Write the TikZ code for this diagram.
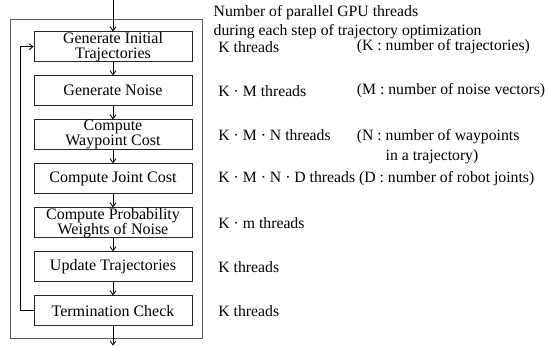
\documentclass[tikz,border=0pt]{standalone}
\usepackage{fontspec}
\setmainfont{Liberation Serif}
\usetikzlibrary{positioning,arrows.meta}
\tikzset{
    stepbox/.style={draw,black!85,text=black,minimum width=118.5pt,minimum height=22.5pt,inner sep=0pt,align=center,font=\fontsize{12}{11.25}\selectfont},
    rowtext/.style={anchor=west,inner sep=0pt,align=left,font=\fontsize{11.8}{15}\selectfont},
    flow/.style={-{Straight Barb[length=3pt,width=4.5pt]},line width=0.6pt}
}
\begin{document}
\begin{tikzpicture}[x=0.75pt,y=0.75pt,node distance=9.9pt,line width=0.6pt]
                \useasboundingbox (0,0) rectangle (549,347);
                \draw[black!65] (10,328) rectangle (202,9);
                \node[stepbox] (b1) at (113,300.3) {Generate Initial\\Trajectories};
                \node[stepbox,below=of b1] (b2) {Generate Noise};
                \node[stepbox,below=of b2] (b3) {Compute\\Waypoint Cost};
                \node[stepbox,below=of b3] (b4) {Compute Joint Cost};
                \node[stepbox,below=of b4] (b5) {Compute Probability\\Weights of Noise};
                \node[stepbox,below=of b5] (b6) {Update Trajectories};
                \node[stepbox,below=of b6] (b7) {Termination Check};
                \coordinate (in) at (113,347);
                \coordinate (out) at (113,1.5);
                \coordinate (back) at (20,0);
                \coordinate (colA) at (218,0);
                \coordinate (colB) at (356.5,0);
                \draw[flow] (in) -- (b1.north);
                \foreach \a/\b in {b1/b2,b2/b3,b3/b4,b4/b5,b5/b6,b6/b7}
                    \draw[flow] (\a.south) -- (\b.north);
                \draw[flow] (b7.south) -- (out);
                \draw[flow] (b7.west) -- (b7.west -| back) -- (b1.west -| back) -- (b1.west);
                \node[rowtext,anchor=north west,font=\fontsize{11.8}{14.25}\selectfont] (head) at (213.3,341.5) {Number of parallel GPU threads\\during each step of trajectory optimization};
                \node[rowtext] (t1) at (b1 -| colA) {K threads};
                \node[rowtext] (t2) at (b2 -| colA) {K · M threads};
                \node[rowtext] (t3) at (b3 -| colA) {K · M · N threads};
                \node[rowtext] (t4) at (b4 -| colA) {K · M · N · D threads (D : number of robot joints)};
                \node[rowtext] (t5) at (b5 -| colA) {K · m threads};
                \node[rowtext] (t6) at (b6 -| colA) {K threads};
                \node[rowtext] (t7) at (b7 -| colA) {K threads};
                \node[rowtext] (n1) at (b1 -| colB) {(K : number of trajectories)};
                \node[rowtext] (n2) at (b2 -| colB) {(M : number of noise vectors)};
                \node[rowtext,anchor=north west] (n3) at (t3.north -| colB) {(N : number of waypoints\\\phantom{(N : }in a trajectory)};
            \end{tikzpicture}
\end{document}
